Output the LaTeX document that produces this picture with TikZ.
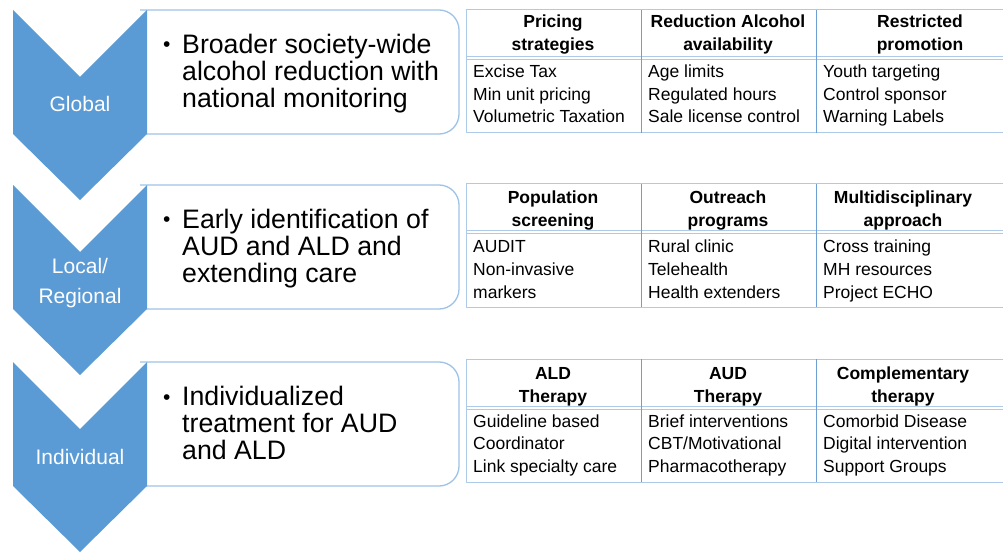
\documentclass[tikz,border=0pt]{standalone}
\usepackage{fontspec}
\setmainfont{Liberation Sans}
\usetikzlibrary{positioning}
\definecolor{chevblue}{HTML}{5B9BD5}
\definecolor{frameblue}{HTML}{9DC3E6}
\definecolor{gridblue}{HTML}{ADCBE8}
\definecolor{colblue}{HTML}{6E9FD4}

\begin{document}
\begin{tikzpicture}
  [
  x=1pt, y=-1pt, line join=round,
  chevron/.style={fill=chevblue},
  level/.style={anchor=base, inner sep=0pt, align=center, text=white, font=\fontsize{21}{30}\selectfont},
  frame/.style={draw=frameblue, line width=1.3pt, rounded corners=20pt},
  goal/.style={anchor=base west, inner sep=0pt, align=left, font=\fontsize{26.7}{27}\selectfont},
  dot/.style={anchor=base west, inner sep=0pt, font=\fontsize{21}{21}\selectfont},
  grid/.style={draw=gridblue, line width=1pt},
  divider/.style={draw=colblue, line width=1pt},
  head/.style={anchor=base, inner sep=0pt, align=center, font=\bfseries\fontsize{17.5}{23}\selectfont},
  item/.style={anchor=base west, inner sep=0pt, align=left, font=\fontsize{17.5}{22.5}\selectfont}
  ]

\clip (0,0) rectangle (1003,553);

\foreach \t in {10,185,362} {
  \draw[frame] (140,\t) -- (459,\t) -- (459,\t+124) -- (140,\t+124);
  \fill[chevron] (13,\t) -- (80,\t+67) -- (147,\t) -- (147,\t+124) -- (80,\t+190) -- (13,\t+124) -- cycle;
  \node[dot] (dot\t) at (163,\t+42) {\textbullet};
}

% multi-line nodes sit on their last baseline
\node[level] (global) at (80,112) {Global};
\node[level] (local) at (80,303) {Local/\\Regional};
\node[level] (individual) at (80,464) {Individual};

\node[goal] (goal1) at (182,107.5) {Broader society-wide\\alcohol reduction with\\national monitoring};
\node[goal] (goal2) at (182,282.5) {Early identification of\\AUD and ALD and\\extending care};
\node[goal] (goal3) at (182,459.5) {Individualized\\treatment for AUD\\and ALD};

\foreach \y in {10,184,359} {
  \draw[grid] (466,\y) rectangle (1030,\y+123);
  \draw[grid] (466,\y+47) -- (1030,\y+47) (466,\y+50) -- (1030,\y+50);
  \draw[divider] (641,\y) -- (641,\y+123) (816,\y) -- (816,\y+123);
}

\node[head] (pricing) at (553,51) {Pricing\\strategies};
\node[head] (availability) at (728,51) {Reduction Alcohol\\availability};
\node[head] (promotion) at (920,51) {Restricted\\promotion};
\node[item] (tax) at (473,123) {Excise Tax\\Min unit pricing\\Volumetric Taxation};
\node[item] (limits) at (648,123) {Age limits\\Regulated hours\\Sale license control};
\node[item] (youth) at (823,123) {Youth targeting\\Control sponsor\\Warning Labels};

\node[head] (screening) at (553,227) {Population\\screening};
\node[head] (outreach) at (728,227) {Outreach\\programs};
\node[head] (multi) at (903,227) {Multidisciplinary\\approach};
\node[item] (audit) at (473,298) {AUDIT\\Non-invasive\\markers};
\node[item] (rural) at (648,298) {Rural clinic\\Telehealth\\Health extenders};
\node[item] (cross) at (823,298) {Cross training\\MH resources\\Project ECHO};

\node[head] (aldtx) at (553,402) {ALD\\Therapy};
\node[head] (audtx) at (728,402) {AUD\\Therapy};
\node[head] (comptx) at (903,402) {Complementary\\therapy};
\node[item] (guide) at (473,472) {Guideline based\\Coordinator\\Link specialty care};
\node[item] (brief) at (648,472) {Brief interventions\\CBT/Motivational\\Pharmacotherapy};
\node[item] (comorbid) at (823,472) {Comorbid Disease\\Digital intervention\\Support Groups};

\end{tikzpicture}
\end{document}
